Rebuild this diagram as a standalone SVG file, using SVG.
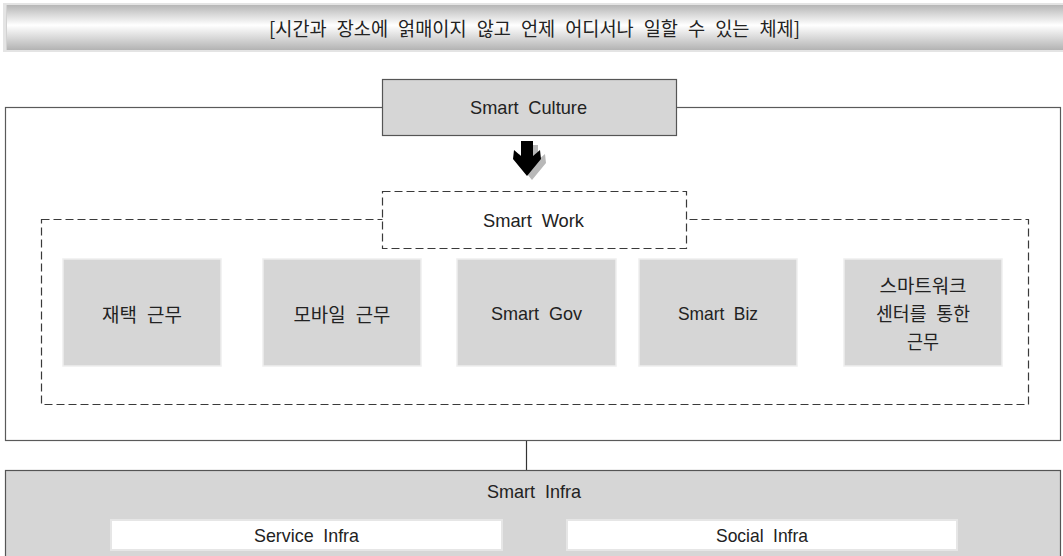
<svg xmlns="http://www.w3.org/2000/svg" width="1063" height="556" viewBox="0 0 1063 556">
  <defs>
    <linearGradient id="barGrad" x1="0" y1="0" x2="0" y2="1">
      <stop offset="0" stop-color="#b6b6b6"/>
      <stop offset="0.45" stop-color="#ffffff"/>
      <stop offset="1" stop-color="#b3b3b3"/>
    </linearGradient>
    <style>
      .lat { font-family: "Liberation Sans", Arial, sans-serif; font-size: 19px; fill: #222; word-spacing: 5px; text-anchor: middle; dominant-baseline: central; }
      .kor { font-family: "Noto Sans CJK KR", "Noto Sans", sans-serif; font-size: 19px; fill: #222; word-spacing: 6px; text-anchor: middle; dominant-baseline: central; }
      .frame { fill: none; stroke: #5a5a5a; stroke-width: 1.2; }
      .dash { fill: #ffffff; stroke: #3a3a3a; stroke-width: 1.2; stroke-dasharray: 8 4; }
      .item { fill: #d6d6d6; stroke: #eeeeee; stroke-width: 1.5; }
      .sub { fill: #ffffff; stroke: #e6e6e6; stroke-width: 2; }
      .conn { stroke: #333; stroke-width: 1.2; fill: none; }
    </style>
  </defs>

  <rect width="1063" height="556" fill="#ffffff"/>

  <!-- headline banner -->
  <g id="banner">
    <rect x="3" y="3" width="1060" height="49" fill="#e4e4e4"/>
    <rect x="6" y="5" width="1057" height="45" fill="url(#barGrad)"/>
    <line x1="6.5" y1="5" x2="6.5" y2="50" stroke="#d2d2d2" stroke-width="1"/>
    <text class="kor" x="534.5" y="27" font-size="18" textLength="531" lengthAdjust="spacingAndGlyphs">[시간과 장소에 얽매이지 않고 언제 어디서나 일할 수 있는 체제]</text>
  </g>

  <!-- outer frame around culture / work -->
  <g id="frame">
    <rect class="frame" x="5.5" y="107.5" width="1055" height="333"/>
  </g>

  <g id="smart-culture">
    <rect x="382.5" y="79.5" width="294" height="56" fill="#d6d6d6" stroke="#555" stroke-width="1.2"/>
    <text class="lat" x="528.5" y="107" textLength="117" lengthAdjust="spacingAndGlyphs">Smart Culture</text>
  </g>

  <!-- heavy down arrow with drop shadow -->
  <g id="arrow">
    <polygon points="526,145 538,145 538,160 545,154 546,163 532,180 518,163 519,154 526,160" fill="#b8b8b8"/>
    <polygon points="521,141 533,141 533,156 540,150 541,159 527,176 513,159 514,150 521,156" fill="#000"/>
  </g>

  <g id="smart-work-area">
    <rect class="dash" x="41.5" y="219.5" width="987" height="185"/>
  </g>

  <g id="smart-work">
    <rect class="dash" x="382.5" y="191.5" width="304" height="57"/>
    <text class="lat" x="533.5" y="220" textLength="101" lengthAdjust="spacingAndGlyphs">Smart Work</text>
  </g>

  <g id="home-work">
    <rect class="item" x="63" y="259" width="158" height="107"/>
    <text class="kor" x="142" y="313" textLength="80" lengthAdjust="spacingAndGlyphs">재택 근무</text>
  </g>

  <g id="mobile-work">
    <rect class="item" x="263" y="259" width="158" height="107"/>
    <text class="kor" x="342" y="313" textLength="97" lengthAdjust="spacingAndGlyphs">모바일 근무</text>
  </g>

  <g id="smart-gov">
    <rect class="item" x="457" y="259" width="159" height="107"/>
    <text class="lat" x="536.5" y="313" textLength="91" lengthAdjust="spacingAndGlyphs">Smart Gov</text>
  </g>

  <g id="smart-biz">
    <rect class="item" x="639" y="259" width="158" height="107"/>
    <text class="lat" x="718" y="313" textLength="80" lengthAdjust="spacingAndGlyphs">Smart Biz</text>
  </g>

  <g id="center-work">
    <rect class="item" x="844" y="259" width="158" height="107"/>
    <text class="kor" x="923" y="284" textLength="87" lengthAdjust="spacingAndGlyphs">스마트워크</text>
    <text class="kor" x="923" y="312" textLength="94" lengthAdjust="spacingAndGlyphs">센터를 통한</text>
    <text class="kor" x="923" y="340" textLength="32" lengthAdjust="spacingAndGlyphs">근무</text>
  </g>

  <g id="connectors">
    <line class="conn" x1="526.5" y1="441" x2="526.5" y2="470"/>
  </g>

  <g id="smart-infra">
    <rect x="5.5" y="470.5" width="1055" height="100" fill="#d6d6d6" stroke="#555" stroke-width="1.2"/>
    <text class="lat" x="534" y="491" textLength="94" lengthAdjust="spacingAndGlyphs">Smart Infra</text>
  </g>

  <g id="service-infra">
    <rect class="sub" x="111" y="520" width="391" height="30"/>
    <text class="lat" x="306.5" y="535" textLength="105" lengthAdjust="spacingAndGlyphs">Service Infra</text>
  </g>

  <g id="social-infra">
    <rect class="sub" x="567" y="520" width="390" height="30"/>
    <text class="lat" x="762" y="535" textLength="92" lengthAdjust="spacingAndGlyphs">Social Infra</text>
  </g>
</svg>
